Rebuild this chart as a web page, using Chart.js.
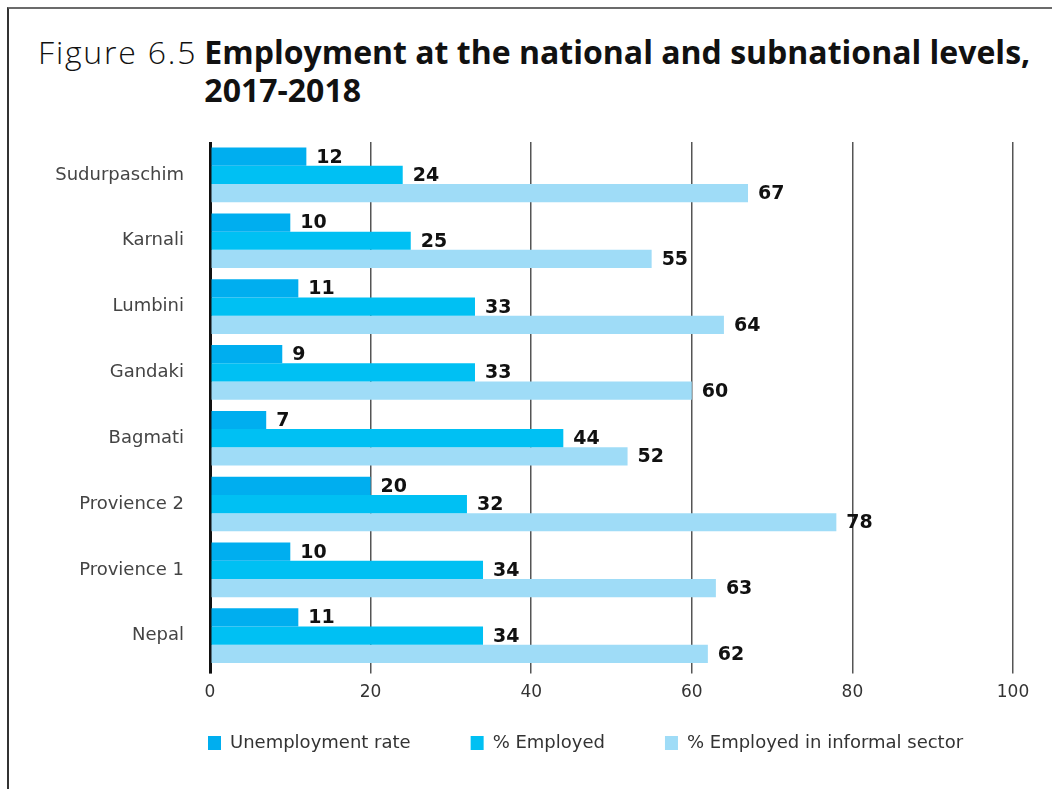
<!DOCTYPE html>
<html>
<head>
<meta charset="utf-8">
<script src="https://cdn.jsdelivr.net/npm/chart.js@4.4.1/dist/chart.umd.min.js"></script>
<style>
  html, body { margin: 0; padding: 0; background: #fff; }
  #page { position: relative; width: 1052px; height: 789px; overflow: hidden; }
  #frame { position: absolute; left: 7px; top: 7px; right: -10px; bottom: -10px;
           border-top: 2px solid #6b6b6b; border-left: 2px solid #333; }
  #title { position: absolute; left: 38px; top: 33px; display: flex; font-family: "Open Sans", sans-serif;
           font-size: 32px; line-height: 38px; color: #111; }
  #title .lite { font-weight: 300; letter-spacing: 1.8px; margin-right: 7px; white-space: nowrap; }
  #title .bold { font-weight: 700; }
  #wrap { position: absolute; left: 0; top: 0; width: 1052px; height: 789px; }
</style>
</head>
<body>
<div id="page">
  <div id="frame"></div>
  <div id="title"><span class="lite">Figure 6.5</span><span class="bold">Employment at the national and subnational levels,<br>2017-2018</span></div>
  <div id="wrap"><canvas id="chart"></canvas></div>
</div>
<script>
const regions = ["Sudurpaschim", "Karnali", "Lumbini", "Gandaki", "Bagmati", "Provience 2", "Provience 1", "Nepal"];
const unemployment = [12, 10, 11, 9, 7, 20, 10, 11];
const employed = [24, 25, 33, 33, 44, 32, 34, 34];
const informal = [67, 55, 64, 60, 52, 78, 63, 62];
const seriesNames = ["Unemployment rate", "% Employed", "% Employed in informal sector"];
const seriesColors = ["#00aeef", "#00c0f3", "#9fdcf7"];

const FONT = "'DejaVu Sans', sans-serif";

// value labels just right of each bar end
const valueLabels = {
    id: "valueLabels",
    afterDatasetsDraw(chart) {
        const ctx = chart.ctx;
        ctx.save();
        ctx.font = "bold 19px " + FONT;
        ctx.fillStyle = "#111";
        ctx.textAlign = "left";
        ctx.textBaseline = "middle";
        chart.data.datasets.forEach((ds, i) => {
            chart.getDatasetMeta(i).data.forEach((bar, j) => {
                ctx.fillText(ds.data[j], bar.x + 10, bar.y + 1);
            });
        });
        ctx.restore();
    }
};

// move the legend to where it sits in the figure
const legendSpot = {
    id: "legendSpot",
    beforeDraw(chart) {
        const lg = chart.legend;
        const pad = lg.options.labels.padding;
        const h = lg.bottom - lg.top;
        lg.left = 208 - pad;
        lg.right = 1050;
        lg.top = 734 - pad;
        lg.bottom = lg.top + h;
    }
};

const chart = new Chart(document.getElementById("chart"), {
    type: "bar",
    data: {
        labels: regions,
        datasets: [
            { label: seriesNames[0], data: unemployment, backgroundColor: seriesColors[0] },
            { label: seriesNames[1], data: employed, backgroundColor: seriesColors[1] },
            { label: seriesNames[2], data: informal, backgroundColor: seriesColors[2] }
        ]
    },
    options: {
        indexAxis: "y",
        responsive: true,
        maintainAspectRatio: false,
        animation: false,
        categoryPercentage: 0.83,
        barPercentage: 1.0,
        layout: { padding: { top: 142, right: 39, bottom: -11, left: 0 } },
        scales: {
            x: {
                min: 0,
                max: 100,
                ticks: { stepSize: 20, color: "#333", font: { family: FONT, size: 17 }, padding: 9 },
                grid: {
                    color: (c) => c.tick && c.tick.value === 0 ? "#111" : "#555",
                    lineWidth: (c) => c.tick && c.tick.value === 0 ? 3 : 1.5,
                    tickLength: 5
                },
                border: { display: false }
            },
            y: {
                afterFit: (scale) => { scale.width = 210; },
                ticks: { color: "#444", font: { family: FONT, size: 18 }, padding: 26 },
                grid: { display: false, drawTicks: false },
                border: { display: false }
            }
        },
        plugins: {
            legend: {
                position: "bottom",
                align: "start",
                labels: {
                    boxWidth: 13,
                    boxHeight: 14,
                    padding: 60,
                    color: "#333",
                    font: { family: FONT, size: 18 }
                }
            },
            tooltip: { enabled: false }
        }
    },
    plugins: [valueLabels, legendSpot]
});
</script>
</body>
</html>
